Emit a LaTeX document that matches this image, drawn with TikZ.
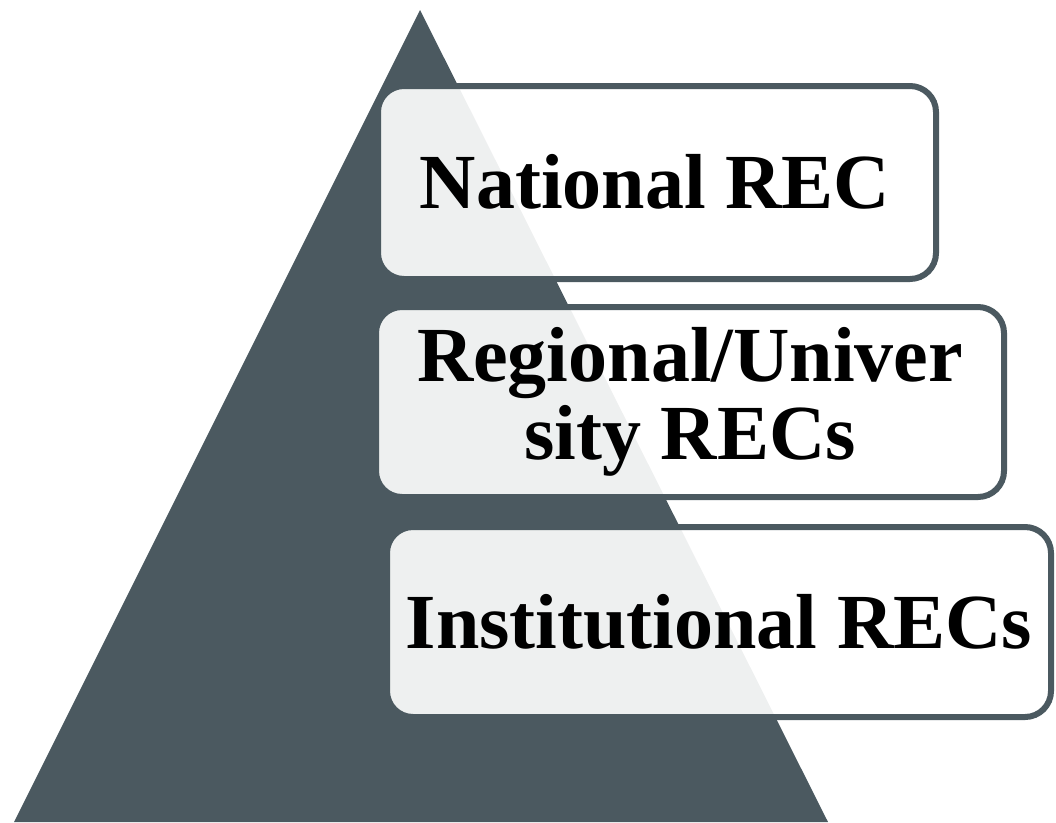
\documentclass[tikz,border=0pt]{standalone}
\usepackage{fontspec}
\setmainfont{Liberation Serif}
\definecolor{slate}{HTML}{4B5960}
\begin{document}
\begin{tikzpicture}[x=1pt,y=-1pt,
  tier/.style={draw=slate,line width=6pt,fill=white,fill opacity=0.91,text opacity=1,rounded corners=26pt},
  lbl/.style={font=\bfseries\fontsize{78}{78}\selectfont,align=center,text=black}]
\useasboundingbox (0,0) rectangle (1056,822);
\fill[slate] (420,10) -- (828,822) -- (14,822) -- cycle;
\draw[tier] (378,86) rectangle (936,279);
\draw[tier] (376,307) rectangle (1004,497);
\draw[tier] (387,527) rectangle (1051,717);
\node[lbl] (n1) at (655,182) {National REC};
\node[lbl] (n2) at (690,402) {Regional/Univer\\sity RECs};
\node[lbl] (n3) at (719,622) {Institutional RECs};
\end{tikzpicture}
\end{document}
